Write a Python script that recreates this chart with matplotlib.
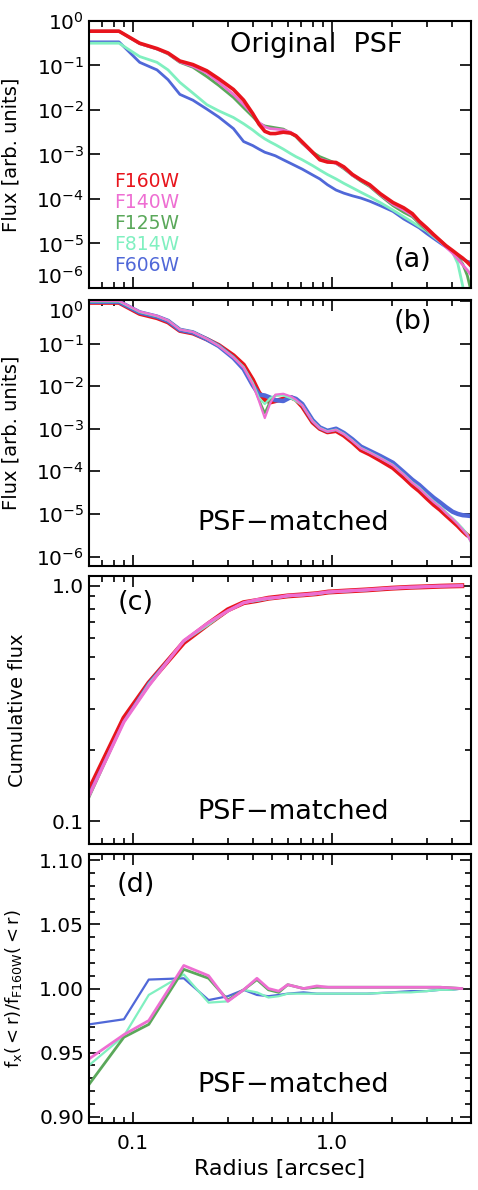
import numpy as np
import matplotlib
matplotlib.use('Agg')
import matplotlib.pyplot as plt
from matplotlib.ticker import LogLocator, NullFormatter, FixedLocator, MultipleLocator, NullLocator

plt.rcParams['font.family'] = ['DejaVu Sans']
plt.rcParams['mathtext.fontset'] = 'dejavusans'

# colours per filter
filters = ['F160W', 'F140W', 'F125W', 'F814W', 'F606W']
colors = {'F160W': '#e8141c', 'F140W': '#ee6ed2', 'F125W': '#5aa85a',
          'F814W': '#80f0c0', 'F606W': '#5068d8'}

# radius grid for the profiles (arcsec)
r_prof = [0.06, 0.085, 0.108, 0.132, 0.15, 0.172, 0.20, 0.235, 0.27, 0.32, 0.36,
          0.40, 0.43, 0.46, 0.49, 0.52, 0.57, 0.62, 0.66, 0.71, 0.8, 0.87, 0.95,
          1.05, 1.15, 1.27, 1.4, 1.55, 1.75, 2.03, 2.3, 2.54, 2.75, 3.0, 3.25, 3.5,
          3.75, 4.05, 4.3, 4.55, 4.8, 5.0]

# (a) original PSF, log10 flux
a_f160w = [-0.23, -0.23, -0.50, -0.62, -0.72, -0.90, -0.98, -1.12, -1.30, -1.54, -1.78,
           -2.08, -2.32, -2.48, -2.53, -2.53, -2.50, -2.52, -2.58, -2.72, -2.95, -3.12, -3.17,
           -3.18, -3.28, -3.45, -3.57, -3.68, -3.88, -4.08, -4.20, -4.33, -4.50, -4.65, -4.80, -4.93,
           -5.05, -5.16, -5.25, -5.33, -5.42, -5.50]
a_f140w = [-0.23, -0.23, -0.51, -0.63, -0.73, -0.92, -1.02, -1.17, -1.38, -1.65, -1.88,
           -2.10, -2.28, -2.38, -2.42, -2.43, -2.45, -2.50, -2.58, -2.74, -2.97, -3.10, -3.15,
           -3.20, -3.30, -3.47, -3.58, -3.70, -3.90, -4.12, -4.25, -4.37, -4.52, -4.68, -4.82, -4.95,
           -5.08, -5.22, -5.35, -5.48, -5.60, -5.70]
a_f125w = [-0.23, -0.23, -0.51, -0.63, -0.74, -0.93, -1.04, -1.25, -1.45, -1.72, -1.95,
           -2.15, -2.30, -2.36, -2.38, -2.40, -2.43, -2.52, -2.60, -2.75, -2.95, -3.05, -3.12,
           -3.20, -3.32, -3.47, -3.60, -3.72, -3.92, -4.15, -4.30, -4.40, -4.55, -4.70, -4.82, -4.93,
           -5.05, -5.19, -5.32, -5.46, -5.72, -6.05]
a_f814w = [-0.50, -0.50, -0.80, -0.93, -1.10, -1.38, -1.62, -1.88, -2.02, -2.17, -2.31,
           -2.45, -2.56, -2.65, -2.72, -2.78, -2.88, -2.98, -3.05, -3.12, -3.25, -3.35, -3.45,
           -3.55, -3.65, -3.75, -3.85, -3.95, -4.08, -4.25, -4.40, -4.52, -4.62, -4.72, -4.85, -4.96,
           -5.05, -5.20, -5.45, -5.95, -6.60, -7.00]
a_f606w = [-0.47, -0.47, -0.93, -1.10, -1.32, -1.65, -1.78, -1.98, -2.16, -2.42, -2.71,
           -2.80, -2.88, -2.95, -2.99, -3.03, -3.12, -3.20, -3.26, -3.33, -3.46, -3.55, -3.68,
           -3.80, -3.87, -3.93, -3.98, -4.05, -4.15, -4.28, -4.45, -4.56, -4.65, -4.78, -4.89, -4.99,
           -5.08, -5.20, -5.28, -5.35, -5.40, -5.42]

# (b) PSF-matched, log10 flux
b_f160w = [-0.04, -0.04, -0.30, -0.40, -0.50, -0.70, -0.76, -0.90, -1.04, -1.28, -1.50,
           -1.85, -2.15, -2.32, -2.38, -2.35, -2.30, -2.26, -2.32, -2.48, -2.85, -3.00, -3.08,
           -3.05, -3.16, -3.32, -3.50, -3.60, -3.74, -3.92, -4.14, -4.33, -4.46, -4.63, -4.78, -4.90,
           -5.03, -5.17, -5.28, -5.40, -5.50, -5.55]
b_f140w = [0.0, 0.0, -0.25, -0.35, -0.46, -0.67, -0.73, -0.89, -1.06, -1.33, -1.57,
           -1.96, -2.35, -2.75, -2.40, -2.20, -2.18, -2.24, -2.32, -2.45, -2.83, -2.99, -3.07,
           -3.03, -3.13, -3.29, -3.46, -3.56, -3.69, -3.86, -4.08, -4.27, -4.40, -4.57, -4.72, -4.84,
           -4.98, -5.12, -5.24, -5.37, -5.50, -5.65]
b_f125w = [-0.01, -0.01, -0.26, -0.36, -0.46, -0.67, -0.73, -0.89, -1.05, -1.32, -1.56,
           -1.95, -2.32, -2.63, -2.35, -2.22, -2.20, -2.26, -2.34, -2.45, -2.83, -2.99, -3.07,
           -3.03, -3.13, -3.29, -3.46, -3.56, -3.69, -3.86, -4.08, -4.27, -4.40, -4.57, -4.72, -4.84,
           -4.98, -5.12, -5.24, -5.37, -5.50, -5.62]
b_f814w = [-0.01, -0.01, -0.26, -0.36, -0.46, -0.67, -0.73, -0.89, -1.05, -1.32, -1.55,
           -1.92, -2.28, -2.42, -2.28, -2.22, -2.22, -2.28, -2.35, -2.45, -2.82, -2.98, -3.06,
           -3.02, -3.12, -3.28, -3.45, -3.55, -3.68, -3.85, -4.07, -4.26, -4.38, -4.55, -4.70, -4.82,
           -4.96, -5.10, -5.22, -5.34, -5.48, -5.66]
b_f606w = [-0.02, -0.02, -0.27, -0.37, -0.47, -0.68, -0.74, -0.90, -1.06, -1.34, -1.60,
           -1.98, -2.20, -2.22, -2.27, -2.33, -2.35, -2.26, -2.30, -2.42, -2.80, -2.97, -3.05,
           -3.00, -3.10, -3.25, -3.42, -3.52, -3.64, -3.80, -4.02, -4.20, -4.32, -4.48, -4.62, -4.73,
           -4.84, -4.95, -5.00, -5.03, -5.04, -5.05]

# (c) cumulative flux and (d) ratio to F160W
r_cum = [0.06, 0.09, 0.12, 0.18, 0.24, 0.30, 0.36, 0.42, 0.48, 0.54, 0.60, 0.72,
         0.84, 0.96, 1.2, 1.5, 2.0, 2.5, 3.0, 3.5, 4.0, 4.5]
c_f160w = [0.135, 0.274, 0.386, 0.574, 0.690, 0.790, 0.847, 0.865, 0.885, 0.895, 0.905,
           0.915, 0.925, 0.940, 0.950, 0.960, 0.976, 0.985, 0.990, 0.995, 0.998, 1.0]
c_f140w = [0.128, 0.264, 0.376, 0.584, 0.697, 0.782, 0.846, 0.872, 0.885, 0.893, 0.908,
           0.915, 0.927, 0.941, 0.951, 0.961, 0.977, 0.986, 0.991, 0.996, 0.998, 1.0]
c_f125w = [0.125, 0.264, 0.375, 0.583, 0.696, 0.783, 0.846, 0.871, 0.884, 0.892, 0.908,
           0.915, 0.926, 0.941, 0.951, 0.961, 0.977, 0.986, 0.991, 0.996, 0.998, 1.0]
c_f814w = [0.127, 0.264, 0.384, 0.580, 0.682, 0.782, 0.846, 0.862, 0.879, 0.890, 0.901,
           0.911, 0.921, 0.936, 0.946, 0.956, 0.973, 0.982, 0.988, 0.994, 0.997, 1.0]
c_f606w = [0.131, 0.267, 0.389, 0.579, 0.684, 0.785, 0.846, 0.861, 0.880, 0.891, 0.901,
           0.912, 0.921, 0.936, 0.946, 0.956, 0.973, 0.983, 0.988, 0.994, 0.997, 1.0]

d_f140w = [0.945, 0.964, 0.975, 1.018, 1.010, 0.990, 0.999, 1.008, 1.000, 0.998, 1.003,
           1.000, 1.002, 1.001, 1.001, 1.001, 1.001, 1.001, 1.001, 1.001, 1.0005, 1.000]
d_f125w = [0.925, 0.962, 0.972, 1.015, 1.008, 0.991, 0.999, 1.007, 0.999, 0.997, 1.003,
           1.000, 1.001, 1.001, 1.001, 1.001, 1.001, 1.001, 1.001, 1.001, 1.0005, 1.000]
d_f814w = [0.940, 0.963, 0.995, 1.011, 0.989, 0.990, 0.999, 0.997, 0.993, 0.994, 0.996,
           0.996, 0.996, 0.996, 0.996, 0.996, 0.997, 0.997, 0.998, 0.999, 0.999, 1.000]
d_f606w = [0.972, 0.976, 1.007, 1.008, 0.991, 0.994, 0.999, 0.995, 0.994, 0.995, 0.996,
           0.997, 0.996, 0.996, 0.996, 0.996, 0.997, 0.998, 0.998, 0.999, 0.999, 1.000]

prof_a = dict(zip(filters, [a_f160w, a_f140w, a_f125w, a_f814w, a_f606w]))
prof_b = dict(zip(filters, [b_f160w, b_f140w, b_f125w, b_f814w, b_f606w]))
cum_c = dict(zip(filters, [c_f160w, c_f140w, c_f125w, c_f814w, c_f606w]))
rat_d = dict(zip(filters[1:], [d_f140w, d_f125w, d_f814w, d_f606w]))

fig = plt.figure(figsize=(4.78, 11.9), dpi=100)
left, width = 0.186, 0.799
ax_a = fig.add_axes([left, 0.758, width, 0.2244])
ax_b = fig.add_axes([left, 0.5244, width, 0.2235])
ax_c = fig.add_axes([left, 0.2908, width, 0.2252])
ax_d = fig.add_axes([left, 0.0563, width, 0.226])

tfs = 14.5
big = 19.5
for ax in (ax_a, ax_b, ax_c, ax_d):
    ax.set_xscale('log')
    ax.set_xlim(0.06, 5.0)
    ax.tick_params(which='both', direction='in', top=True, right=True, labelsize=tfs, width=1.2)
    ax.tick_params(which='major', length=8)
    ax.tick_params(which='minor', length=4)
    ax.xaxis.set_major_locator(FixedLocator([0.1, 1.0]))
    ax.xaxis.set_minor_locator(LogLocator(base=10, subs=np.arange(2, 10)))
    ax.xaxis.set_minor_formatter(NullFormatter())
    for s in ax.spines.values():
        s.set_linewidth(1.5)
for ax in (ax_a, ax_b, ax_c):
    ax.set_xticklabels([])

# panel (a)
order_ab = ['F606W', 'F814W', 'F125W', 'F140W', 'F160W']
for f in order_ab:
    lw = 2.6 if f == 'F160W' else 2.0
    ax_a.plot(r_prof, 10 ** np.array(prof_a[f]), color=colors[f], lw=lw)
ax_a.set_yscale('log')
ax_a.set_ylim(1e-6, 1.0)
ax_a.yaxis.set_major_locator(FixedLocator([1e-6, 1e-5, 1e-4, 1e-3, 1e-2, 1e-1, 1e0]))
ax_a.yaxis.set_minor_locator(NullLocator())
ax_a.set_ylabel('Flux [arb. units]', fontsize=14)
ax_a.text(0.594, 0.91, 'Original  PSF', transform=ax_a.transAxes, fontsize=big, ha='center', va='center')
ax_a.text(0.846, 0.105, '(a)', transform=ax_a.transAxes, fontsize=big, ha='center', va='center')
for i, f in enumerate(filters):
    ax_a.text(0.065, 0.40 - i * 0.079, f, transform=ax_a.transAxes, color=colors[f],
              fontsize=13.5, ha='left', va='center')

# panel (b)
for f in ['F160W', 'F606W', 'F125W', 'F814W', 'F140W']:
    lw = 3.2 if f in ('F160W', 'F606W') else 1.6
    ax_b.plot(r_prof, 10 ** np.array(prof_b[f]), color=colors[f], lw=lw)
ax_b.set_yscale('log')
ax_b.set_ylim(6e-7, 1.05)
ax_b.yaxis.set_major_locator(FixedLocator([1e-6, 1e-5, 1e-4, 1e-3, 1e-2, 1e-1, 1e0]))
ax_b.yaxis.set_minor_locator(NullLocator())
ax_b.set_ylabel('Flux [arb. units]', fontsize=14)
ax_b.text(0.848, 0.917, '(b)', transform=ax_b.transAxes, fontsize=big, ha='center', va='center')
ax_b.text(0.534, 0.16, 'PSF\u2212matched', transform=ax_b.transAxes, fontsize=big, ha='center', va='center')

# panel (c)
for f in ['F160W', 'F606W', 'F125W', 'F814W', 'F140W']:
    lw = {'F160W': 3.6, 'F140W': 2.4}.get(f, 1.4)
    ax_c.plot(r_cum, cum_c[f], color=colors[f], lw=lw)
ax_c.set_yscale('log')
ax_c.set_ylim(0.08, 1.1)
ax_c.yaxis.set_major_locator(FixedLocator([0.1, 1.0]))
ax_c.yaxis.set_minor_locator(FixedLocator([0.2, 0.3, 0.4, 0.5, 0.6, 0.7, 0.8, 0.9]))
ax_c.yaxis.set_minor_formatter(NullFormatter())
ax_c.set_yticklabels(['0.1', '1.0'])
ax_c.set_ylabel('Cumulative flux', fontsize=14)
ax_c.text(0.123, 0.90, '(c)', transform=ax_c.transAxes, fontsize=big, ha='center', va='center')
ax_c.text(0.534, 0.12, 'PSF\u2212matched', transform=ax_c.transAxes, fontsize=big, ha='center', va='center')

# panel (d)
for f in ['F606W', 'F814W', 'F125W', 'F140W']:
    lw = 2.0 if f in ('F125W', 'F140W') else 1.6
    ax_d.plot(r_cum, rat_d[f], color=colors[f], lw=lw)
ax_d.set_ylim(0.895, 1.105)
ax_d.yaxis.set_major_locator(MultipleLocator(0.05))
ax_d.yaxis.set_minor_locator(MultipleLocator(0.01))
ax_d.yaxis.set_major_formatter(matplotlib.ticker.FormatStrFormatter('%.2f'))
ax_d.set_xticklabels(['0.1', '1.0'])
ax_d.tick_params(axis='x', pad=8)
ax_d.set_ylabel(r'$\mathregular{f_x(<r)/f_{F160W}(<r)}$', fontsize=13)
ax_d.set_xlabel('Radius [arcsec]', fontsize=16)
ax_d.text(0.123, 0.885, '(d)', transform=ax_d.transAxes, fontsize=big, ha='center', va='center')
ax_d.text(0.534, 0.14, 'PSF\u2212matched', transform=ax_d.transAxes, fontsize=big, ha='center', va='center')

ax_a.yaxis.set_label_coords(-0.18, 0.5)
ax_b.yaxis.set_label_coords(-0.18, 0.5)
ax_c.yaxis.set_label_coords(-0.162, 0.5)
ax_d.yaxis.set_label_coords(-0.17, 0.5)

# keep the stacked decade labels of (a) and (b) from running into each other
fig.canvas.draw()
ax_a.get_yticklabels()[0].set_va('bottom')
ax_b.get_yticklabels()[-1].set_va('top')

fig.savefig('out.png', dpi=100)
